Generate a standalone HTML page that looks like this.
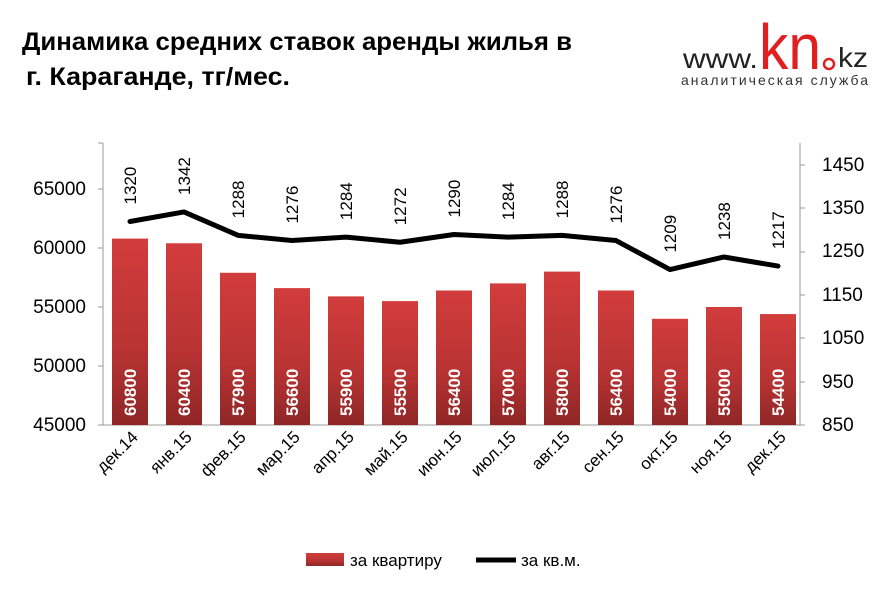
<!DOCTYPE html>
<html><head><meta charset="utf-8"><style>
body{margin:0;background:#fff;}
svg{display:block;font-family:"Liberation Sans",sans-serif;}
</style></head><body>
<svg width="888" height="592" viewBox="0 0 888 592" xmlns="http://www.w3.org/2000/svg">
<defs>
<linearGradient id="g" x1="0" y1="0" x2="0" y2="1">
<stop offset="0" stop-color="#d23c3c"/><stop offset="0.6" stop-color="#b83333"/><stop offset="1" stop-color="#8f2626"/>
</linearGradient>
</defs>
<text x="22" y="50" font-size="25" font-weight="bold" fill="#000" textLength="550" lengthAdjust="spacingAndGlyphs">Динамика средних ставок аренды жилья в</text>
<text x="26" y="85" font-size="25" font-weight="bold" fill="#000" textLength="264" lengthAdjust="spacingAndGlyphs">г. Караганде, тг/мес.</text>
<!-- logo -->
<text x="683" y="68" font-size="28" fill="#222" textLength="75" lengthAdjust="spacingAndGlyphs">www.</text>
<text x="759" y="69" font-size="64" fill="#e02020" textLength="62" lengthAdjust="spacingAndGlyphs">kn</text>
<circle cx="829" cy="64" r="5" fill="none" stroke="#e02020" stroke-width="2.5"/>
<text x="838" y="67" font-size="28" fill="#222" textLength="30" lengthAdjust="spacingAndGlyphs">kz</text>
<text x="681" y="85" font-size="14" fill="#333" textLength="187" lengthAdjust="spacing">аналитическая служба</text>
<!-- axes -->
<line x1="103" y1="143" x2="103" y2="425" stroke="#999"/>
<line x1="800" y1="143" x2="800" y2="425" stroke="#999"/>
<line x1="103" y1="425" x2="800" y2="425" stroke="#999"/>
<g font-size="19" fill="#000" text-anchor="end">
<text x="86" y="431">45000</text><text x="86" y="372">50000</text><text x="86" y="313">55000</text><text x="86" y="254">60000</text><text x="86" y="195">65000</text>
</g>
<g font-size="19" fill="#000">
<text x="822" y="431">850</text><text x="822" y="388">950</text><text x="822" y="344">1050</text><text x="822" y="301">1150</text><text x="822" y="257">1250</text><text x="822" y="214">1350</text><text x="822" y="171">1450</text>
</g>
<g stroke="#999">
<line x1="98" y1="425" x2="103" y2="425"/><line x1="98" y1="366" x2="103" y2="366"/><line x1="98" y1="307" x2="103" y2="307"/><line x1="98" y1="248" x2="103" y2="248"/><line x1="98" y1="189" x2="103" y2="189"/><line x1="98" y1="143" x2="103" y2="143"/>
<line x1="800" y1="425" x2="805" y2="425"/><line x1="800" y1="382" x2="805" y2="382"/><line x1="800" y1="338" x2="805" y2="338"/><line x1="800" y1="295" x2="805" y2="295"/><line x1="800" y1="252" x2="805" y2="252"/><line x1="800" y1="208" x2="805" y2="208"/><line x1="800" y1="165" x2="805" y2="165"/>
</g>
<g id="bars"></g>
<polyline id="ln" fill="none" stroke="#000" stroke-width="5" stroke-linejoin="round" stroke-linecap="round"/>
<g id="lbl"></g>
<!-- legend -->
<rect x="306" y="553" width="38" height="13" fill="url(#g)"/>
<text x="350" y="566" font-size="17">за квартиру</text>
<line x1="476" y1="560" x2="516" y2="560" stroke="#000" stroke-width="5"/>
<text x="521" y="566" font-size="17">за кв.м.</text>
<script>
var bars=[60800,60400,57900,56600,55900,55500,56400,57000,58000,56400,54000,55000,54400];
var ln=[1320,1342,1288,1276,1284,1272,1290,1284,1288,1276,1209,1238,1217];
var cats=["дек.14","янв.15","фев.15","мар.15","апр.15","май.15","июн.15","июл.15","авг.15","сен.15","окт.15","ноя.15","дек.15"];
var ns="http://www.w3.org/2000/svg",B=document.getElementById('bars'),L=document.getElementById('lbl'),pts=[];
function el(t,a,p,txt){var e=document.createElementNS(ns,t);for(var k in a)e.setAttribute(k,a[k]);if(txt)e.textContent=txt;p.appendChild(e);return e;}
for(var i=0;i<13;i++){
var cx=130+54*i,y=425-(bars[i]-45000)/5000*59;
el('rect',{x:cx-18,y:y,width:36,height:425-y,fill:'url(#g)'},B);
el('text',{x:0,y:0,transform:'translate('+(cx+6)+',416) rotate(-90)','font-size':'17','font-weight':'bold',fill:'#fff'},L,String(bars[i]));
var ly=425-(ln[i]-850)/100*43.3;pts.push(cx+','+ly);
el('text',{x:0,y:0,transform:'translate('+(cx+6)+','+(ly-17)+') rotate(-90)','font-size':'17',fill:'#000'},L,String(ln[i]));
el('text',{x:0,y:0,transform:'translate('+(cx+9)+',438) rotate(-45)','font-size':'17','text-anchor':'end',fill:'#000'},L,cats[i]);
}
document.getElementById('ln').setAttribute('points',pts.join(' '));
</script>
</svg>
</body></html>
